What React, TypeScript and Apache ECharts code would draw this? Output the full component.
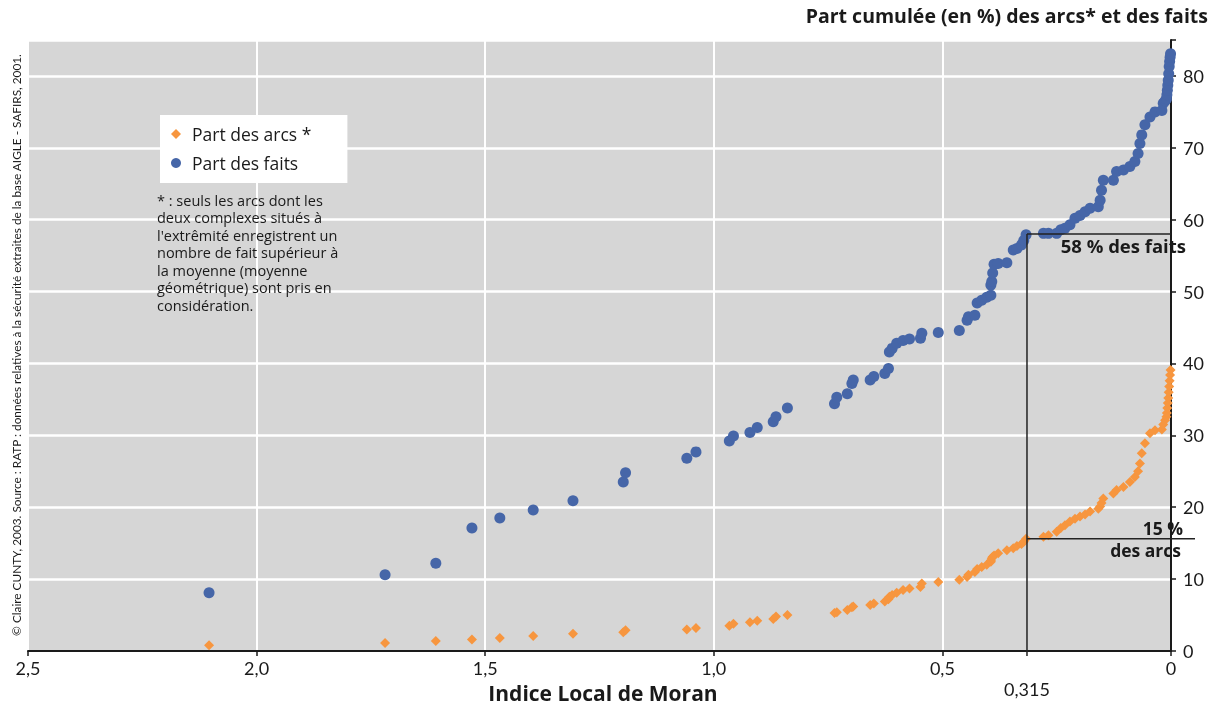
import React, { useEffect, useRef } from "react";
import * as echarts from "echarts";

// Indice Local de Moran (one value per arc, sorted descending)
const moranIndex = [
  2.104, 1.719, 1.608, 1.529, 1.468, 1.395, 1.308, 1.198, 1.193, 1.059,
  1.039, 0.966, 0.957, 0.921, 0.905, 0.87, 0.864, 0.839, 0.736, 0.731,
  0.708, 0.698, 0.695, 0.658, 0.65, 0.626, 0.618, 0.616, 0.61, 0.6,
  0.586, 0.572, 0.548, 0.545, 0.509, 0.463, 0.446, 0.443, 0.429, 0.424,
  0.414, 0.403, 0.394, 0.394, 0.392, 0.39, 0.387, 0.378, 0.359, 0.345,
  0.337, 0.327, 0.322, 0.317, 0.279, 0.268, 0.25, 0.241, 0.232, 0.221,
  0.21, 0.199, 0.188, 0.177, 0.159, 0.155, 0.152, 0.148, 0.126, 0.119,
  0.104, 0.09, 0.079, 0.072, 0.068, 0.064, 0.057, 0.046, 0.035, 0.02,
  0.017, 0.013, 0.01, 0.009, 0.008, 0.007, 0.006, 0.005, 0.004, 0.003,
  0.002, 0.001,
];

// Part cumulée des faits (%)
const partFaits = [
  8.1, 10.6, 12.2, 17.1, 18.5, 19.6, 20.9, 23.5, 24.8, 26.8,
  27.7, 29.2, 29.9, 30.4, 31.1, 31.9, 32.6, 33.8, 34.4, 35.3,
  35.8, 37.2, 37.7, 37.7, 38.2, 38.6, 39.3, 41.6, 42.1, 42.8,
  43.2, 43.4, 43.5, 44.2, 44.3, 44.6, 46.0, 46.5, 46.7, 48.4,
  48.8, 49.2, 49.5, 50.9, 51.4, 52.6, 53.8, 53.9, 54.0, 55.8,
  56.0, 56.5, 57.1, 57.9, 58.1, 58.1, 58.1, 58.6, 58.8, 59.3,
  60.2, 60.6, 61.1, 61.6, 61.8, 62.7, 64.1, 65.5, 65.5, 66.7,
  66.9, 67.4, 68.1, 69.2, 70.6, 71.8, 73.2, 74.3, 75.0, 75.2,
  76.2, 76.5, 76.8, 77.4, 78.0, 78.7, 79.4, 80.3, 81.3, 82.0,
  82.6, 83.1,
];

// Part cumulée des arcs (%)
const partArcs = [
  0.8, 1.1, 1.4, 1.6, 1.8, 2.1, 2.4, 2.6, 2.9, 3.0,
  3.2, 3.5, 3.8, 4.0, 4.2, 4.45, 4.8, 5.0, 5.3, 5.4,
  5.7, 6.1, 6.2, 6.4, 6.6, 6.9, 7.2, 7.55, 7.8, 8.1,
  8.5, 8.7, 8.9, 9.4, 9.6, 9.9, 10.3, 10.6, 11.0, 11.4,
  11.7, 12.0, 12.4, 12.6, 12.9, 13.1, 13.3, 13.6, 14.0, 14.3,
  14.6, 14.9, 15.2, 15.6, 15.9, 16.1, 16.6, 17.1, 17.5, 18.0,
  18.4, 18.7, 19.0, 19.4, 19.8, 20.1, 20.6, 21.2, 21.9, 22.4,
  22.8, 23.5, 24.2, 25.0, 26.1, 27.5, 28.9, 30.3, 30.7, 30.8,
  31.5, 32.1, 32.6, 33.1, 33.8, 34.5, 35.2, 36.0, 36.8, 37.6,
  38.4, 39.1,
];

const seriesNames = ["Part des arcs *", "Part des faits"];
const threshold = 0.315;
const thresholdLabel = "0,315";
const faitsAtThreshold = 58;
const arcsAtThreshold = 15.6;

const titleText = "Part cumulée (en %) des arcs* et des faits";
const xAxisTitle = "Indice Local de Moran";
const sourceText =
  "© Claire CUNTY, 2003. Source : RATP : données relatives à la sécurité extraites de la base AIGLE - SAFIRS, 2001.";
const noteLines = [
  "* : seuls les arcs dont les",
  "deux complexes situés à",
  "l'extrêmité enregistrent un",
  "nombre de fait supérieur à",
  "la moyenne (moyenne",
  "géométrique) sont pris en",
  "considération.",
];

const FONT = "Lato, 'Open Sans', sans-serif";
const WIDE = "'Open Sans', Lato, sans-serif";
const ORANGE = "#f7963f";
const BLUE = "#4666a8";
const INK = "#1a1a1a";

export default function App() {
  const ref = useRef<HTMLDivElement>(null);

  useEffect(() => {
    if (!ref.current) return;
    const chart = echarts.init(ref.current, null, { renderer: "svg" });

    const arcsData = moranIndex.map((x, i) => [x, partArcs[i]]);
    const faitsData = moranIndex.map((x, i) => [x, partFaits[i]]);

    chart.setOption({
      animation: false,
      textStyle: { fontFamily: FONT },
      grid: {
        left: 28,
        right: 47,
        top: 40,
        bottom: 57,
        show: true,
        backgroundColor: "#d6d6d6",
        borderWidth: 0,
      },
      legend: {
        orient: "vertical",
        left: 160,
        top: 115,
        backgroundColor: "#ffffff",
        padding: [7, 36, 8, 11],
        itemGap: 5,
        itemWidth: 10,
        itemHeight: 10,
        textStyle: {
          fontFamily: WIDE,
          fontSize: 17.5,
          color: INK,
          lineHeight: 24,
          padding: [0, 0, 0, 6],
        },
        data: [
          { name: seriesNames[0], icon: "diamond" },
          { name: seriesNames[1], icon: "circle" },
        ],
      },
      xAxis: {
        type: "value",
        inverse: true,
        min: 0,
        max: 2.5,
        interval: 0.5,
        axisLine: { show: true, onZero: false, lineStyle: { color: INK, width: 2 } },
        axisTick: { show: true, length: 5, lineStyle: { color: INK, width: 1.5 } },
        axisLabel: {
          fontFamily: FONT,
          fontSize: 18,
          color: INK,
          margin: 8,
          formatter: (v: number) => (v === 0 ? "0" : v.toFixed(1).replace(".", ",")),
        },
        splitLine: { show: true, lineStyle: { color: "#ffffff", width: 2 } },
      },
      yAxis: {
        type: "value",
        position: "right",
        min: 0,
        max: 85,
        interval: 10,
        axisLine: { show: true, lineStyle: { color: INK, width: 2 } },
        axisTick: { show: true, length: 5, lineStyle: { color: INK, width: 1.5 } },
        axisLabel: {
          fontFamily: FONT,
          fontSize: 18,
          color: INK,
          margin: 12,
          formatter: (v: number) => (v % 10 === 0 ? String(v) : ""),
        },
        splitLine: { show: true, lineStyle: { color: "#ffffff", width: 2.5 } },
      },
      series: [
        {
          name: seriesNames[0],
          type: "scatter",
          symbol: "diamond",
          symbolSize: 10,
          itemStyle: { color: ORANGE, opacity: 1 },
          data: arcsData,
          z: 3,
        },
        {
          name: seriesNames[1],
          type: "scatter",
          symbol: "circle",
          symbolSize: 11,
          itemStyle: { color: BLUE, opacity: 1 },
          data: faitsData,
          z: 4,
        },
      ],
    });

    const p = (x: number, y: number) =>
      chart.convertToPixel({ xAxisIndex: 0, yAxisIndex: 0 }, [x, y]) as number[];
    const base = p(threshold, 0);
    const pf = p(threshold, faitsAtThreshold);
    const pa = p(threshold, arcsAtThreshold);
    const axisRight = p(0, 0)[0];

    const lineStyle = { stroke: "#222222", lineWidth: 1.5 };
    const boldText = (text: string, size: number) => ({
      text,
      fontFamily: WIDE,
      fontSize: size,
      fontWeight: "bold",
      fill: INK,
    });

    const noteElements = noteLines.map((line, i) => ({
      type: "text",
      x: 157,
      y: 200 + i * 17.5,
      style: {
        text: line,
        fontFamily: WIDE,
        fontSize: 14.5,
        fill: INK,
        align: "left",
        verticalAlign: "middle",
      },
    }));

    chart.setOption({
      graphic: [
        {
          type: "line",
          shape: { x1: base[0], y1: base[1] + 5, x2: pf[0], y2: pf[1] },
          style: lineStyle,
          z: 10,
        },
        {
          type: "line",
          shape: { x1: pf[0], y1: pf[1], x2: axisRight, y2: pf[1] },
          style: lineStyle,
          z: 10,
        },
        {
          type: "line",
          shape: { x1: pa[0], y1: pa[1], x2: axisRight + 24, y2: pa[1] },
          style: lineStyle,
          z: 10,
        },
        {
          type: "text",
          x: axisRight + 15,
          y: pf[1] + 2,
          style: { ...boldText("58 % des faits", 18.5), align: "right", verticalAlign: "top" },
          z: 11,
        },
        {
          type: "text",
          x: axisRight + 12,
          y: pa[1] - 11,
          style: { ...boldText("15 %", 17.5), align: "right", verticalAlign: "middle" },
          z: 11,
        },
        {
          type: "text",
          x: axisRight + 10,
          y: pa[1] + 11,
          style: { ...boldText("des arcs", 17.5), align: "right", verticalAlign: "middle" },
          z: 11,
        },
        {
          type: "text",
          x: base[0],
          y: base[1] + 29,
          style: {
            text: thresholdLabel,
            fontFamily: FONT,
            fontSize: 18,
            fill: INK,
            align: "center",
            verticalAlign: "top",
          },
        },
        {
          type: "text",
          x: 1208,
          y: 5,
          style: { ...boldText(titleText, 19.5), align: "right", verticalAlign: "top" },
        },
        {
          type: "text",
          x: 603,
          y: 682,
          style: { ...boldText(xAxisTitle, 21), align: "center", verticalAlign: "top" },
        },
        {
          type: "text",
          x: 16,
          y: 345,
          rotation: Math.PI / 2,
          style: {
            text: sourceText,
            fontFamily: FONT,
            fontSize: 11.8,
            fill: INK,
            align: "center",
            verticalAlign: "middle",
          },
        },
        ...noteElements,
      ],
    });

    return () => chart.dispose();
  }, []);

  return (
    <div
      ref={ref}
      style={{ position: "fixed", left: 0, top: 0, width: 1218, height: 708 }}
    />
  );
}
